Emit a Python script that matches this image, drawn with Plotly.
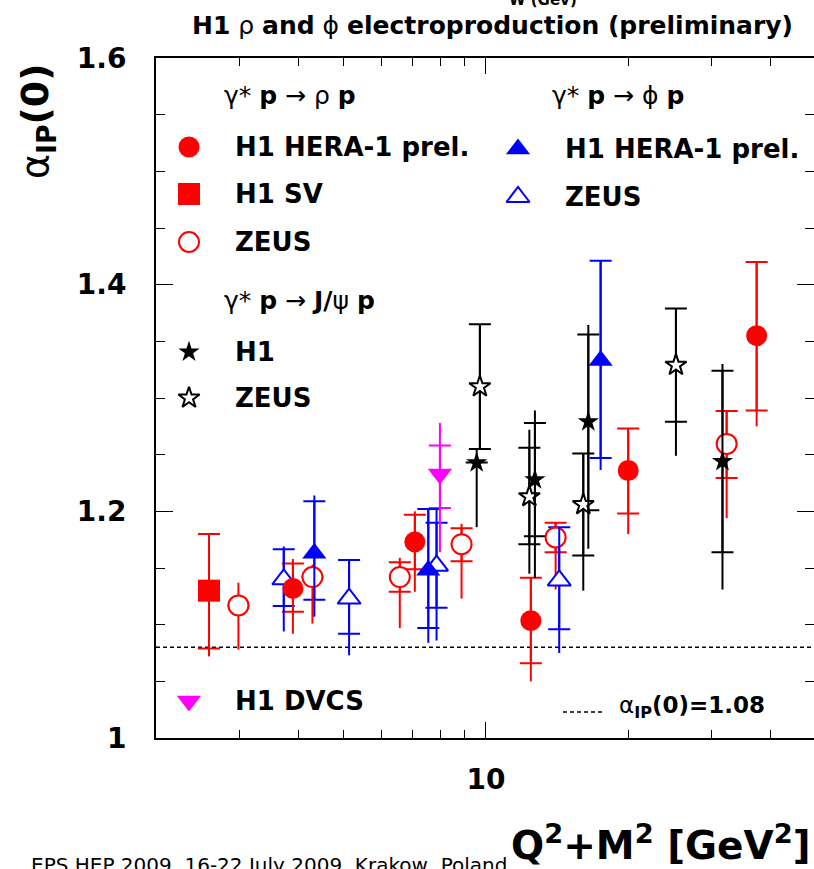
import math
import plotly.graph_objects as go

# ---------------- data ----------------
# rho, H1 HERA-1 prel.
rho_h1_x = [3.90, 7.07, 12.45, 20.02, 37.46]
rho_h1_y = [1.132, 1.173, 1.1035, 1.236, 1.355]
rho_h1_stat_up = [0.022, 0.024, 0.038, 0.037, 0.065]
rho_h1_stat_dn = [0.0205, 0.024, 0.0375, 0.038, 0.066]
rho_h1_tot_up = [0.026, 0.027, 0.038, 0.037, 0.065]
rho_h1_tot_dn = [0.040, 0.044, 0.0535, 0.056, 0.080]

# rho, H1 SV
rho_sv_x = [2.59]
rho_sv_y = [1.130]
rho_sv_stat_up = [0.050]
rho_sv_stat_dn = [0.051]
rho_sv_tot_up = [0.050]
rho_sv_tot_dn = [0.058]

# rho, ZEUS
rho_zeus_x = [2.99, 4.29, 6.57, 8.88, 14.05, 32.36]
rho_zeus_y = [1.117, 1.142, 1.142, 1.171, 1.177, 1.2595]
rho_zeus_stat_up = [0.0, 0.0, 0.013, 0.014, 0.013, 0.029]
rho_zeus_stat_dn = [0.0, 0.0, 0.013, 0.015, 0.013, 0.030]
rho_zeus_tot_up = [0.020, 0.011, 0.017, 0.018, 0.013, 0.029]
rho_zeus_tot_dn = [0.039, 0.041, 0.045, 0.048, 0.046, 0.0655]

# phi, H1 HERA-1 prel.
phi_h1_x = [4.33, 7.55, 17.50]
phi_h1_y = [1.163, 1.148, 1.333]
phi_h1_stat_up = [0.046, 0.054, 0.088]
phi_h1_stat_dn = [0.041, 0.051, 0.086]
phi_h1_tot_up = [0.051, 0.055, 0.088]
phi_h1_tot_dn = [0.056, 0.064, 0.0965]

# phi, ZEUS
phi_zeus_x = [3.73, 5.13, 7.86, 14.30]
phi_zeus_y = [1.140, 1.123, 1.152, 1.139]
phi_zeus_stat_up = [0.0265, 0.034, 0.038, 0.047]
phi_zeus_stat_dn = [0.0235, 0.031, 0.037, 0.043]
phi_zeus_tot_up = [0.029, 0.035, 0.051, 0.047]
phi_zeus_tot_dn = [0.046, 0.050, 0.066, 0.064]

# J/psi, H1
jpsi_h1_x = [9.56, 12.70, 16.48, 31.71]
jpsi_h1_y = [1.243, 1.228, 1.279, 1.244]
jpsi_h1_stat_up = [0.0, 0.050, 0.077, 0.080]
jpsi_h1_stat_dn = [0.0, 0.050, 0.078, 0.080]
jpsi_h1_tot_up = [0.012, 0.061, 0.0855, 0.086]
jpsi_h1_tot_dn = [0.057, 0.087, 0.112, 0.113]

# J/psi, ZEUS
jpsi_zeus_x = [9.71, 12.36, 16.08, 25.27]
jpsi_zeus_y = [1.310, 1.213, 1.206, 1.329]
jpsi_zeus_stat_up = [0.055, 0.043, 0.045, 0.050]
jpsi_zeus_stat_dn = [0.055, 0.042, 0.045, 0.050]
jpsi_zeus_tot_up = [0.055, 0.059, 0.045, 0.050]
jpsi_zeus_tot_dn = [0.055, 0.068, 0.076, 0.080]

# DVCS, H1
dvcs_x = [7.99]
dvcs_y = [1.233]
dvcs_stat_up = [0.025]
dvcs_stat_dn = [0.030]
dvcs_tot_up = [0.045]
dvcs_tot_dn = [0.069]

alpha_ref = 1.08

x_tick_vals = [10]
x_tick_text = ["10"]
x_minor_vals = [3, 4, 5, 6, 7, 8, 9, 20, 30, 40]
y_tick_vals = [1.0, 1.2, 1.4, 1.6]
y_tick_text = ["1", "1.2", "1.4", "1.6"]
y_minor_vals = [1.05, 1.1, 1.15, 1.25, 1.3, 1.35, 1.45, 1.5, 1.55]

RED = "#ff0000"
BLUE = "#0000ff"
BLACK = "#000000"
MAGENTA = "#ff00ff"
FONT = "DejaVu Sans"

# ---------------- layout geometry ----------------
W, H = 814, 869
L, R, T, B = 156, 0, 58, 131
PW, PH = W - L - R, H - T - B


def PX(p):
    return (p - L) / PW


def PY(p):
    return (H - B - p) / PH


series = [
    dict(x=rho_sv_x, y=rho_sv_y, su=rho_sv_stat_up, sd=rho_sv_stat_dn, tu=rho_sv_tot_up, td=rho_sv_tot_dn,
         color=RED, symbol="square", size=22, fill=RED),
    dict(x=rho_zeus_x, y=rho_zeus_y, su=rho_zeus_stat_up, sd=rho_zeus_stat_dn, tu=rho_zeus_tot_up, td=rho_zeus_tot_dn,
         color=RED, symbol="circle", size=20, fill="white"),
    dict(x=phi_zeus_x, y=phi_zeus_y, su=phi_zeus_stat_up, sd=phi_zeus_stat_dn, tu=phi_zeus_tot_up, td=phi_zeus_tot_dn,
         color=BLUE, symbol="triangle-up", size=20, fill="white"),
    dict(x=dvcs_x, y=dvcs_y, su=dvcs_stat_up, sd=dvcs_stat_dn, tu=dvcs_tot_up, td=dvcs_tot_dn,
         color=MAGENTA, symbol="triangle-down", size=21, fill=MAGENTA),
    dict(x=jpsi_zeus_x, y=jpsi_zeus_y, su=jpsi_zeus_stat_up, sd=jpsi_zeus_stat_dn, tu=jpsi_zeus_tot_up, td=jpsi_zeus_tot_dn,
         color=BLACK, symbol="star", size=16, fill="white"),
    dict(x=jpsi_h1_x, y=jpsi_h1_y, su=jpsi_h1_stat_up, sd=jpsi_h1_stat_dn, tu=jpsi_h1_tot_up, td=jpsi_h1_tot_dn,
         color=BLACK, symbol="star", size=16, fill=BLACK),
    dict(x=phi_h1_x, y=phi_h1_y, su=phi_h1_stat_up, sd=phi_h1_stat_dn, tu=phi_h1_tot_up, td=phi_h1_tot_dn,
         color=BLUE, symbol="triangle-up", size=21, fill=BLUE),
    dict(x=rho_h1_x, y=rho_h1_y, su=rho_h1_stat_up, sd=rho_h1_stat_dn, tu=rho_h1_tot_up, td=rho_h1_tot_dn,
         color=RED, symbol="circle", size=21, fill=RED),
]

fig = go.Figure()

for s in series:
    # stat errors with tick marks
    fig.add_trace(go.Scatter(
        x=s["x"], y=s["y"], mode="markers",
        marker=dict(size=1, opacity=0),
        error_y=dict(type="data", symmetric=False, array=s["su"], arrayminus=s["sd"],
                     color=s["color"], thickness=2, width=11),
        hoverinfo="skip", showlegend=False,
    ))
for s in series:
    # total errors (plain lines) + markers
    open_marker = s["fill"] == "white"
    fig.add_trace(go.Scatter(
        x=s["x"], y=s["y"], mode="markers",
        marker=dict(symbol=s["symbol"], size=s["size"], color=s["fill"],
                    line=dict(color=s["color"], width=2 if open_marker else 0)),
        error_y=dict(type="data", symmetric=False, array=s["tu"], arrayminus=s["td"],
                     color=s["color"], thickness=2, width=0),
        showlegend=False,
    ))

# ---------------- legend (drawn inside the frame) ----------------
legend_entries = [
    # (pixel x, pixel y, symbol, size, fill, line colour, label, label x)
    (189, 147, "circle", 21, RED, RED, "H1 HERA-1 prel.", 233),
    (189, 194, "square", 22, RED, RED, "H1 SV", 233),
    (189, 242, "circle", 20, "white", RED, "ZEUS", 233),
    (189, 352, "star", 16, BLACK, BLACK, "H1", 233),
    (189, 398, "star", 16, "white", BLACK, "ZEUS", 233),
    (518, 149, "triangle-up", 21, BLUE, BLUE, "H1 HERA-1 prel.", 563),
    (518, 197, "triangle-up", 20, "white", BLUE, "ZEUS", 563),
    (189, 701, "triangle-down", 21, MAGENTA, MAGENTA, "H1 DVCS", 233),
]

for (px, py, sym, sz, fill, lc, label, tx) in legend_entries:
    fig.add_trace(go.Scatter(
        x=[PX(px)], y=[PY(py)], xaxis="x2", yaxis="y2", mode="markers",
        marker=dict(symbol=sym, size=sz, color=fill,
                    line=dict(color=lc, width=2 if fill == "white" else 0)),
        cliponaxis=False, hoverinfo="skip", showlegend=False,
    ))

# invisible trace for the right-hand tick axis
fig.add_trace(go.Scatter(x=[10], y=[1.3], yaxis="y3", mode="markers",
                         marker=dict(opacity=0, size=1), hoverinfo="skip", showlegend=False))

annotations = []


def add_text(text, px, py, size, xanchor="left", yanchor="middle", angle=0, bold=False):
    annotations.append(dict(
        text=("<b>%s</b>" % text) if bold else text,
        x=PX(px), y=PY(py), xref="paper", yref="paper",
        xanchor=xanchor, yanchor=yanchor, showarrow=False, textangle=angle,
        font=dict(family=FONT, size=size, color="black"),
    ))


for (px, py, sym, sz, fill, lc, label, tx) in legend_entries:
    add_text(label, tx, py, 26, bold=True)

add_text("γ* <b>p</b> → ρ <b>p</b>", 222, 95, 25)
add_text("γ* <b>p</b> → ϕ <b>p</b>", 550, 95, 25)
add_text("γ* <b>p</b> → <b>J/</b>ψ <b>p</b>", 222, 300, 25)
add_text("α<b><sub>IP</sub>(0)=1.08</b>", 617, 707, 23)

# title and other texts
add_text("<b>H1</b> ρ <b>and</b> ϕ <b>electroproduction (preliminary)</b>", 492, 26, 25, xanchor="center")
add_text("W (Gev)", 507, 11, 15, yanchor="bottom", bold=True)
add_text("α<b><sub>IP</sub>(0)</b>", 37, 121, 38, xanchor="center", angle=-90)
add_text("Q<sup>2</sup>+M<sup>2</sup> [GeV<sup>2</sup>]", 813, 870, 39, xanchor="right", yanchor="bottom", bold=True)
add_text("EPS HEP 2009, 16-22 July 2009, Krakow, Poland", 29, 851, 20, yanchor="top")

shapes = [
    dict(type="line", xref="paper", x0=0, x1=1, yref="y", y0=alpha_ref, y1=alpha_ref,
         line=dict(color="black", width=1.5, dash="4px,3px"), layer="below"),
    dict(type="line", xref="paper", x0=PX(563), x1=PX(603), yref="paper", y0=PY(712), y1=PY(712),
         line=dict(color="black", width=1.5, dash="4px,3px")),
]

tickfont = dict(family=FONT, size=28, color="black", weight="bold")

fig.update_layout(
    width=W, height=H,
    margin=dict(l=L, r=R, t=T, b=B, pad=0),
    plot_bgcolor="white", paper_bgcolor="white",
    showlegend=False,
    annotations=annotations,
    shapes=shapes,
    xaxis=dict(
        type="log", range=[math.log10(2), math.log10(2) + PW / 472.0],
        tickmode="array", tickvals=x_tick_vals, ticktext=x_tick_text,
        ticks="inside", ticklen=16, tickwidth=1.2, tickcolor="black",
        showline=True, linewidth=2, linecolor="black", mirror="ticks",
        showgrid=False, zeroline=False, tickfont=tickfont, ticklabelstandoff=15,
        minor=dict(tickmode="array", tickvals=x_minor_vals, ticks="inside", ticklen=8,
                   tickwidth=1.2, tickcolor="black", showgrid=False),
    ),
    yaxis=dict(
        range=[1.0, 1.6], tickmode="array", tickvals=y_tick_vals, ticktext=y_tick_text,
        ticks="inside", ticklen=17, tickwidth=1.2, tickcolor="black",
        showline=True, linewidth=2, linecolor="black", mirror=False,
        showgrid=False, zeroline=False, tickfont=tickfont, ticklabelstandoff=22,
        minor=dict(tickmode="array", tickvals=y_minor_vals, ticks="inside", ticklen=9,
                   tickwidth=1.2, tickcolor="black", showgrid=False),
    ),
    yaxis3=dict(
        overlaying="y", side="right", anchor="x", range=[1.0, 1.6],
        tickmode="array", tickvals=y_tick_vals, ticks="inside", ticklen=17, tickwidth=1.2,
        tickcolor="black", showticklabels=False, showline=False, showgrid=False, zeroline=False,
        minor=dict(tickmode="array", tickvals=y_minor_vals, ticks="inside", ticklen=9,
                   tickwidth=1.2, tickcolor="black", showgrid=False),
    ),
    xaxis2=dict(overlaying="x", range=[0, 1], visible=False),
    yaxis2=dict(overlaying="y", range=[0, 1], visible=False),
)

fig.write_html(
    "out.html",
    config={"displayModeBar": False},
    post_script="document.body.style.margin='0';document.documentElement.style.overflow='hidden';",
)
